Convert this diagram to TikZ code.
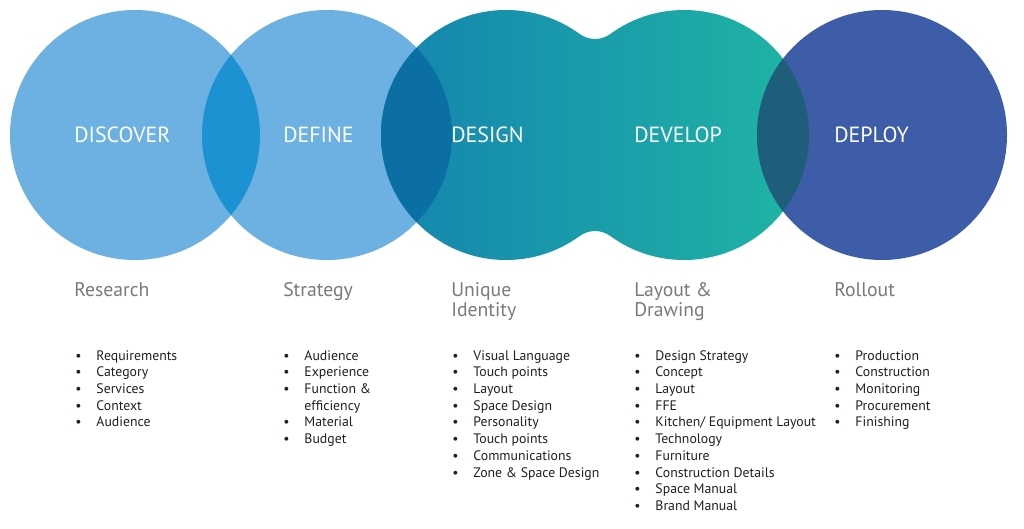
\documentclass[tikz,border=0pt]{standalone}
\usepackage{fontspec}
\setmainfont{PT Sans}

\definecolor{lightblue}{HTML}{6CB1E1}
\definecolor{lensblue}{HTML}{1C92D2}
\definecolor{lensdark}{HTML}{0C6FA4}
\definecolor{designblue}{HTML}{1584B0}
\definecolor{developgreen}{HTML}{1FB5A4}
\definecolor{deployblue}{HTML}{3D5DA9}
\definecolor{lensteal}{HTML}{1E5E7B}
\definecolor{subgrey}{HTML}{7A7A7A}
\definecolor{itemdark}{HTML}{231F20}

\begin{document}
\begin{tikzpicture}[x=0.025cm, y=0.025cm,
    stage/.style={anchor=west, inner sep=0pt, text=white, font=\fontsize{15.6}{18}\selectfont},
    phase/.style={anchor=north west, inner sep=0pt, align=left, text=subgrey, font=\fontsize{14}{14.2}\selectfont},
    items/.style={anchor=base west, inner sep=0pt, text=itemdark, font=\fontsize{9.8}{11.9}\selectfont}]
    \useasboundingbox[fill=white] (0,0) rectangle (1024,528);

    % circle centres
    \coordinate (disc) at (135,393);
    \coordinate (def) at (327,393);
    \coordinate (des) at (506,393);
    \coordinate (dev) at (684,393);
    \coordinate (dep) at (882,393);

    \fill[lightblue] (disc) circle [radius=125];
    \fill[lightblue] (def) circle [radius=125];
    \shade[left color=designblue, right color=developgreen]
        (des) circle [radius=125] (dev) circle [radius=125]
        (595,393) -- (610.3,494) arc [start angle=306.1, end angle=233.9, radius=26] -- cycle
        (595,393) -- (579.7,292) arc [start angle=126.1, end angle=53.9, radius=26] -- cycle;
    \fill[deployblue] (dep) circle [radius=125];

    % overlaps
    \begin{scope}
        \clip (disc) circle [radius=125];
        \fill[lensblue] (def) circle [radius=125];
    \end{scope}
    \begin{scope}
        \clip (def) circle [radius=125];
        \fill[lensdark] (des) circle [radius=125];
    \end{scope}
    \begin{scope}
        \clip (dev) circle [radius=125];
        \fill[lensteal] (dep) circle [radius=125];
    \end{scope}

    \node[stage] (discover) at (74,393) {DISCOVER};
    \node[stage] (define) at (283,393) {DEFINE};
    \node[stage] (design) at (451,393) {DESIGN};
    \node[stage] (develop) at (634,393) {DEVELOP};
    \node[stage] (deploy) at (834,393) {DEPLOY};

    \node[phase] (research) at (74,246) {Research};
    \node[phase] (strategy) at (283,246) {Strategy};
    \node[phase] (identity) at (451,246) {Unique\\Identity};
    \node[phase] (drawing) at (634,246) {Layout \&\\Drawing};
    \node[phase] (rollout) at (834,246) {Rollout};

    \node[items] (researchlist) at (75,168) {\begin{tabular}[t]{@{}p{0.53cm}@{}l@{}}
        \textbullet & Requirements\\ \textbullet & Category\\ \textbullet & Services\\
        \textbullet & Context\\ \textbullet & Audience
    \end{tabular}};
    \node[items] (strategylist) at (283,168) {\begin{tabular}[t]{@{}p{0.53cm}@{}l@{}}
        \textbullet & Audience\\ \textbullet & Experience\\ \textbullet & Function \&\\
        & efficiency\\ \textbullet & Material\\ \textbullet & Budget
    \end{tabular}};
    \node[items] (identitylist) at (452,168) {\begin{tabular}[t]{@{}p{0.53cm}@{}l@{}}
        \textbullet & Visual Language\\ \textbullet & Touch points\\ \textbullet & Layout\\
        \textbullet & Space Design\\ \textbullet & Personality\\ \textbullet & Touch points\\
        \textbullet & Communications\\ \textbullet & Zone \& Space Design
    \end{tabular}};
    \node[items] (drawinglist) at (634,168) {\begin{tabular}[t]{@{}p{0.53cm}@{}l@{}}
        \textbullet & Design Strategy\\ \textbullet & Concept\\ \textbullet & Layout\\
        \textbullet & FFE\\ \textbullet & Kitchen/ Equipment Layout\\ \textbullet & Technology\\
        \textbullet & Furniture\\ \textbullet & Construction Details\\ \textbullet & Space Manual\\
        \textbullet & Brand Manual
    \end{tabular}};
    \node[items] (rolloutlist) at (834,168) {\begin{tabular}[t]{@{}p{0.53cm}@{}l@{}}
        \textbullet & Production\\ \textbullet & Construction\\ \textbullet & Monitoring\\
        \textbullet & Procurement\\ \textbullet & Finishing
    \end{tabular}};
\end{tikzpicture}
\end{document}
